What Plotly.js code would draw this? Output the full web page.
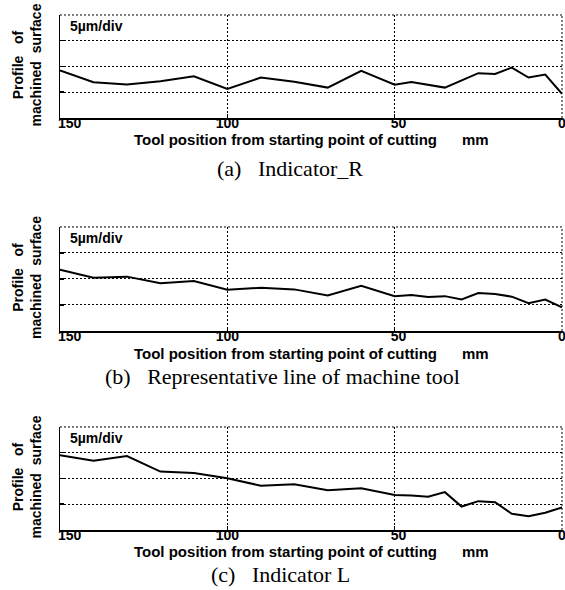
<!DOCTYPE html>
<html>
<head>
<meta charset="utf-8">
<script src="https://cdn.plot.ly/plotly-3.0.1.min.js"></script>
<style>html,body{margin:0;padding:0;background:#fff;}#chart{width:565px;height:590px;}</style>
</head>
<body>
<div id="chart"></div>
<script>
// Tool position (mm) and surface profile (µm, 5 µm per division) for each panel
const posR = [150, 140, 130, 120, 110, 100, 90, 80, 70, 60, 50, 45, 35, 25, 20, 15, 10, 5, 0];
const profR = [9.25, 6.95, 6.5, 7.15, 8.1, 5.65, 7.85, 7.05, 5.9, 9.15, 6.45, 7.0, 5.9, 8.7, 8.55, 9.8, 7.85, 8.45, 4.7];

const posM = [150, 140, 130, 120, 110, 100, 90, 80, 70, 60, 50, 45, 40, 35, 30, 25, 20, 15, 10, 5, 0];
const profM = [11.8, 10.25, 10.45, 9.2, 9.6, 7.95, 8.3, 8.0, 6.85, 8.7, 6.7, 6.9, 6.55, 6.7, 6.05, 7.3, 7.1, 6.6, 5.35, 6.05, 4.55];

const posL = [150, 140, 130, 120, 110, 100, 90, 80, 70, 60, 50, 45, 40, 35, 30, 25, 20, 15, 10, 5, 0];
const profL = [14.5, 13.45, 14.35, 11.35, 11.05, 10.05, 8.6, 8.9, 7.7, 8.1, 6.8, 6.7, 6.45, 7.35, 4.55, 5.6, 5.4, 3.15, 2.65, 3.35, 4.4];

const xTickVals = [150, 100, 50, 0];
const xTickText = ['\u00a0\u00a0\u00a0\u00a0\u00a0150', '100', '\u00a0\u00a050', '0'];
const yGridVals = [5, 10, 15];
const yTopValue = 20;
const xTitle = 'Tool position from starting point of cutting\u00a0\u00a0\u00a0\u00a0\u00a0\u00a0mm';
const yTitle = 'Profile\u00a0\u00a0\u00a0of<br>machined\u00a0\u00a0surface';
const scaleLabel = '5µm/div';
const captions = ['(a)\u00a0\u00a0\u00a0Indicator_R', '(b)\u00a0\u00a0\u00a0Representative line of machine tool', '(c)\u00a0\u00a0\u00a0Indicator L'];

const panels = [
  {x: posR, y: profR},
  {x: posM, y: profM},
  {x: posL, y: profL}
];
const yDomains = [[0.8, 0.9746], [0.4390, 0.6153], [0.1017, 0.2763]];
const xDomain = [60 / 565, 562 / 565];
const captionX = [290 / 565, 282 / 565, 280 / 565];
const captionShift = [-51, -46, -45];
const titleShift = [-22, -23, -22];
const labelLift = 5 / 590;

const sans = 'Liberation Sans, Arial, sans-serif';
const data = [];
const layout = {
  width: 565, height: 590,
  margin: {l: 0, r: 0, t: 0, b: 0},
  paper_bgcolor: '#fff', plot_bgcolor: '#fff',
  showlegend: false,
  annotations: [], shapes: []
};

panels.forEach((p, i) => {
  const n = i === 0 ? '' : String(i + 1);
  const xa = 'x' + n, ya = 'y' + n;
  const labN = String(i + 4);
  data.push({
    x: p.x, y: p.y, xaxis: xa, yaxis: ya,
    type: 'scatter', mode: 'lines',
    line: {color: '#000', width: 2},
    hoverinfo: 'skip'
  });
  layout['xaxis' + n] = {
    domain: xDomain, anchor: ya, range: [150, 0],
    tickvals: xTickVals, showticklabels: false,
    ticks: 'inside', ticklen: 4, tickwidth: 1.5, tickcolor: '#000',
    showline: true, linecolor: '#000', linewidth: 2,
    showgrid: true, gridcolor: '#000', gridwidth: 1, griddash: '2px,2px',
    zeroline: false, fixedrange: true
  };
  // label-only overlay axis, sitting slightly higher so labels hug the axis line
  layout['xaxis' + labN] = {
    domain: xDomain, overlaying: xa, anchor: 'free',
    position: yDomains[i][0] + labelLift, range: [150, 0],
    tickvals: xTickVals, ticktext: xTickText, ticks: '',
    ticklabeloverflow: 'allow',
    showline: false, showgrid: false, zeroline: false, fixedrange: true,
    tickfont: {family: sans, size: 14, color: '#000', weight: 'bold'}
  };
  layout['yaxis' + n] = {
    domain: yDomains[i], anchor: xa, range: [0, yTopValue],
    tickvals: yGridVals, showticklabels: false,
    ticks: 'inside', ticklen: 4, tickwidth: 1.5, tickcolor: '#000',
    showline: true, linecolor: '#000', linewidth: 1.5,
    showgrid: true, gridcolor: '#000', gridwidth: 1, griddash: '2px,2px',
    zeroline: false, fixedrange: true
  };
  // dotted top and right frame
  layout.shapes.push({type: 'line', xref: xa + ' domain', yref: ya + ' domain', x0: 0, x1: 1, y0: 1, y1: 1,
    line: {color: '#000', width: 1, dash: '2px,2px'}});
  layout.shapes.push({type: 'line', xref: xa + ' domain', yref: ya + ' domain', x0: 1, x1: 1, y0: 0, y1: 1,
    line: {color: '#000', width: 1, dash: '2px,2px'}});
  // scale label
  layout.annotations.push({xref: xa + ' domain', yref: ya + ' domain', x: 0.015, y: 0.99,
    xanchor: 'left', yanchor: 'top', showarrow: false, text: scaleLabel,
    font: {family: sans, size: 14, color: '#000', weight: 'bold'}});
  // y title
  layout.annotations.push({xref: 'paper', yref: ya + ' domain', x: 27 / 565, y: 0.5, yshift: 1,
    xanchor: 'center', yanchor: 'middle', textangle: -90, showarrow: false, text: yTitle,
    font: {family: sans, size: 14, color: '#000', weight: 'bold'}});
  // x title
  layout.annotations.push({xref: xa + ' domain', yref: ya + ' domain', x: 0.5, y: 0, yshift: titleShift[i],
    xanchor: 'center', yanchor: 'middle', showarrow: false, text: xTitle,
    font: {family: sans, size: 15, color: '#000', weight: 'bold'}});
  // caption
  layout.annotations.push({xref: 'paper', yref: ya + ' domain', x: captionX[i], y: 0, yshift: captionShift[i],
    xanchor: 'center', yanchor: 'middle', showarrow: false, text: captions[i],
    font: {family: 'Liberation Serif, Times New Roman, serif', size: 22, color: '#000'}});
});

// an invisible trace per label axis so each overlay axis is drawn
panels.forEach((p, i) => {
  data.push({x: p.x, y: p.y, xaxis: 'x' + (i + 4), yaxis: i === 0 ? 'y' : 'y' + (i + 1),
    type: 'scatter', mode: 'lines', line: {width: 0, color: 'rgba(0,0,0,0)'}, hoverinfo: 'skip'});
});

Plotly.newPlot('chart', data, layout, {staticPlot: true, displayModeBar: false});
</script>
</body>
</html>
